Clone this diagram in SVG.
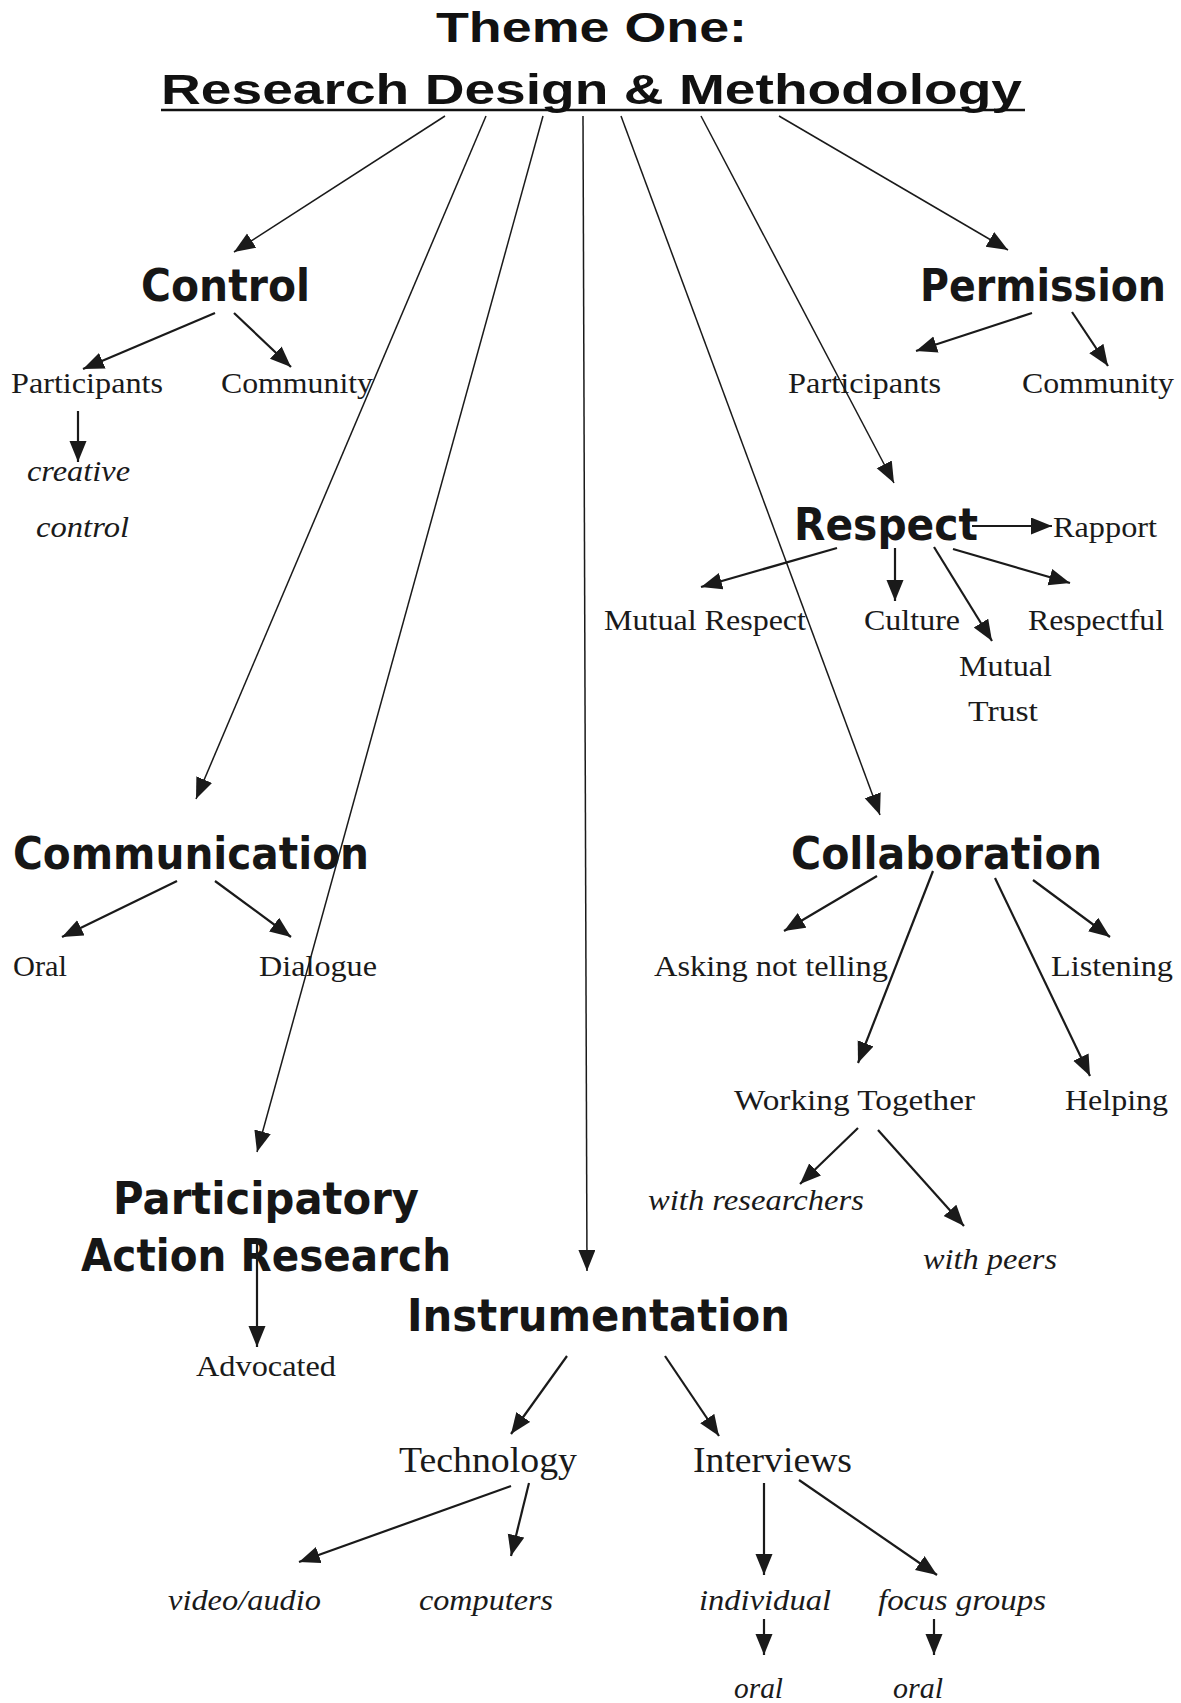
<svg xmlns="http://www.w3.org/2000/svg" width="1181" height="1703" viewBox="0 0 1181 1703">
<style>
.title{font-family:"Liberation Sans",Arial,sans-serif;font-weight:bold;font-size:42px;fill:#111}
.head{font-family:"DejaVu Sans",Verdana,sans-serif;font-weight:bold;font-size:45px;fill:#161616}
.lbl{font-family:"Liberation Serif","Times New Roman",serif;font-size:29px;fill:#1a1a1a}
.big{font-family:"Liberation Serif","Times New Roman",serif;font-size:35px;fill:#1a1a1a}
.it{font-family:"Liberation Serif","Times New Roman",serif;font-style:italic;font-size:29px;fill:#1a1a1a}
.c line{stroke:#1a1a1a;stroke-width:2.2;marker-end:url(#ah)}
.c .thin{stroke-width:1.5}
</style>
<defs>
<marker id="ah" markerUnits="userSpaceOnUse" markerWidth="22" markerHeight="18" refX="21" refY="8.5" orient="auto">
<path d="M0,0 L21,8.5 L0,17 Z" fill="#1a1a1a"/>
</marker>
</defs>
<rect width="1181" height="1703" fill="#fff"/>

<g id="title">
<text class="title" x="436" y="42" textLength="311" lengthAdjust="spacingAndGlyphs">Theme One:</text>
<text class="title" x="161" y="104" textLength="861" lengthAdjust="spacingAndGlyphs">Research Design &amp; Methodology</text>
<line x1="161" y1="110" x2="1025" y2="110" stroke="#111" stroke-width="2.5"/>
</g>

<g id="control"><text class="head" x="141" y="301" textLength="169" lengthAdjust="spacingAndGlyphs">Control</text></g>
<g id="permission"><text class="head" transform="translate(920,301) scale(1,1.14)" x="0" y="0" style="font-size:39px" textLength="246" lengthAdjust="spacingAndGlyphs">Permission</text></g>
<g id="ctl-participants"><text class="lbl" x="11" y="393" textLength="152" lengthAdjust="spacingAndGlyphs">Participants</text></g>
<g id="ctl-community"><text class="lbl" x="221" y="393" textLength="152" lengthAdjust="spacingAndGlyphs">Community</text></g>
<g id="creative-control">
<text class="it" x="27" y="481" textLength="103" lengthAdjust="spacingAndGlyphs">creative</text>
<text class="it" x="36" y="537" textLength="93" lengthAdjust="spacingAndGlyphs">control</text>
</g>
<g id="perm-participants"><text class="lbl" x="788" y="393" textLength="153" lengthAdjust="spacingAndGlyphs">Participants</text></g>
<g id="perm-community"><text class="lbl" x="1022" y="393" textLength="152" lengthAdjust="spacingAndGlyphs">Community</text></g>

<g id="respect"><text class="head" x="794" y="540" textLength="184" lengthAdjust="spacingAndGlyphs">Respect</text></g>
<g id="rapport"><text class="lbl" x="1053" y="537" textLength="104" lengthAdjust="spacingAndGlyphs">Rapport</text></g>
<g id="mutual-respect"><text class="lbl" x="604" y="630" textLength="202" lengthAdjust="spacingAndGlyphs">Mutual Respect</text></g>
<g id="culture"><text class="lbl" x="864" y="630" textLength="96" lengthAdjust="spacingAndGlyphs">Culture</text></g>
<g id="respectful"><text class="lbl" x="1028" y="630" textLength="136" lengthAdjust="spacingAndGlyphs">Respectful</text></g>
<g id="mutual-trust">
<text class="lbl" x="959" y="676" textLength="93" lengthAdjust="spacingAndGlyphs">Mutual</text>
<text class="lbl" x="968" y="721" textLength="70" lengthAdjust="spacingAndGlyphs">Trust</text>
</g>

<g id="communication"><text class="head" x="13" y="869" textLength="356" lengthAdjust="spacingAndGlyphs">Communication</text></g>
<g id="oral-comm"><text class="lbl" x="13" y="976" textLength="54" lengthAdjust="spacingAndGlyphs">Oral</text></g>
<g id="dialogue"><text class="lbl" x="259" y="976" textLength="118" lengthAdjust="spacingAndGlyphs">Dialogue</text></g>

<g id="collaboration"><text class="head" x="791" y="869" textLength="311" lengthAdjust="spacingAndGlyphs">Collaboration</text></g>
<g id="asking"><text class="lbl" x="654" y="976" textLength="234" lengthAdjust="spacingAndGlyphs">Asking not telling</text></g>
<g id="listening"><text class="lbl" x="1051" y="976" textLength="122" lengthAdjust="spacingAndGlyphs">Listening</text></g>
<g id="working-together"><text class="lbl" x="734" y="1110" textLength="241" lengthAdjust="spacingAndGlyphs">Working Together</text></g>
<g id="helping"><text class="lbl" x="1065" y="1110" textLength="103" lengthAdjust="spacingAndGlyphs">Helping</text></g>
<g id="with-researchers"><text class="it" x="648" y="1210" textLength="216" lengthAdjust="spacingAndGlyphs">with researchers</text></g>
<g id="with-peers"><text class="it" x="923" y="1269" textLength="134" lengthAdjust="spacingAndGlyphs">with peers</text></g>

<g id="par">
<text class="head" x="113" y="1214" textLength="306" lengthAdjust="spacingAndGlyphs">Participatory</text>
<text class="head" x="81" y="1271" textLength="370" lengthAdjust="spacingAndGlyphs">Action Research</text>
</g>
<g id="advocated"><text class="lbl" x="196" y="1376" textLength="140" lengthAdjust="spacingAndGlyphs">Advocated</text></g>

<g id="instrumentation"><text class="head" x="407" y="1331" textLength="383" lengthAdjust="spacingAndGlyphs">Instrumentation</text></g>
<g id="technology"><text class="big" x="399" y="1472" textLength="178" lengthAdjust="spacingAndGlyphs">Technology</text></g>
<g id="interviews"><text class="big" x="693" y="1472" textLength="159" lengthAdjust="spacingAndGlyphs">Interviews</text></g>
<g id="video-audio"><text class="it" x="168" y="1610" textLength="153" lengthAdjust="spacingAndGlyphs">video/audio</text></g>
<g id="computers"><text class="it" x="419" y="1610" textLength="134" lengthAdjust="spacingAndGlyphs">computers</text></g>
<g id="individual"><text class="it" x="699" y="1610" textLength="132" lengthAdjust="spacingAndGlyphs">individual</text></g>
<g id="focus-groups"><text class="it" x="878" y="1610" textLength="168" lengthAdjust="spacingAndGlyphs">focus groups</text></g>
<g id="oral-individual"><text class="it" x="734" y="1698" textLength="49" lengthAdjust="spacingAndGlyphs">oral</text></g>
<g id="oral-focus"><text class="it" x="893" y="1698" textLength="50" lengthAdjust="spacingAndGlyphs">oral</text></g>

<g id="connectors" class="c">
<line class="thin" x1="445" y1="116" x2="234" y2="252"/>
<line class="thin" x1="486" y1="116" x2="196" y2="799"/>
<line class="thin" x1="543" y1="116" x2="257" y2="1152"/>
<line class="thin" x1="583" y1="116" x2="587" y2="1271"/>
<line class="thin" x1="621" y1="116" x2="880" y2="815"/>
<line class="thin" x1="701" y1="116" x2="894" y2="483"/>
<line class="thin" x1="779" y1="116" x2="1008" y2="250"/>

<line x1="215" y1="313" x2="83" y2="369"/>
<line x1="234" y1="313" x2="291" y2="367"/>
<line x1="78" y1="411" x2="78" y2="462"/>

<line x1="1032" y1="313" x2="916" y2="351"/>
<line x1="1072" y1="312" x2="1108" y2="366"/>

<line x1="972" y1="526" x2="1052" y2="526"/>
<line x1="837" y1="548" x2="701" y2="587"/>
<line x1="895" y1="548" x2="895" y2="601"/>
<line x1="934" y1="547" x2="992" y2="641"/>
<line x1="953" y1="549" x2="1070" y2="583"/>

<line x1="177" y1="881" x2="62" y2="937"/>
<line x1="215" y1="881" x2="291" y2="937"/>

<line x1="877" y1="876" x2="784" y2="931"/>
<line x1="933" y1="871" x2="858" y2="1063"/>
<line x1="995" y1="878" x2="1090" y2="1076"/>
<line x1="1033" y1="880" x2="1110" y2="937"/>

<line x1="858" y1="1128" x2="800" y2="1184"/>
<line x1="878" y1="1130" x2="964" y2="1226"/>

<line x1="257" y1="1241" x2="257" y2="1347"/>

<line x1="567" y1="1356" x2="511" y2="1434"/>
<line x1="665" y1="1356" x2="719" y2="1436"/>

<line x1="511" y1="1486" x2="299" y2="1562"/>
<line x1="529" y1="1483" x2="511" y2="1556"/>

<line x1="764" y1="1483" x2="764" y2="1575"/>
<line x1="799" y1="1480" x2="937" y2="1575"/>
<line x1="764" y1="1619" x2="764" y2="1655"/>
<line x1="934" y1="1619" x2="934" y2="1655"/>
</g>
</svg>
